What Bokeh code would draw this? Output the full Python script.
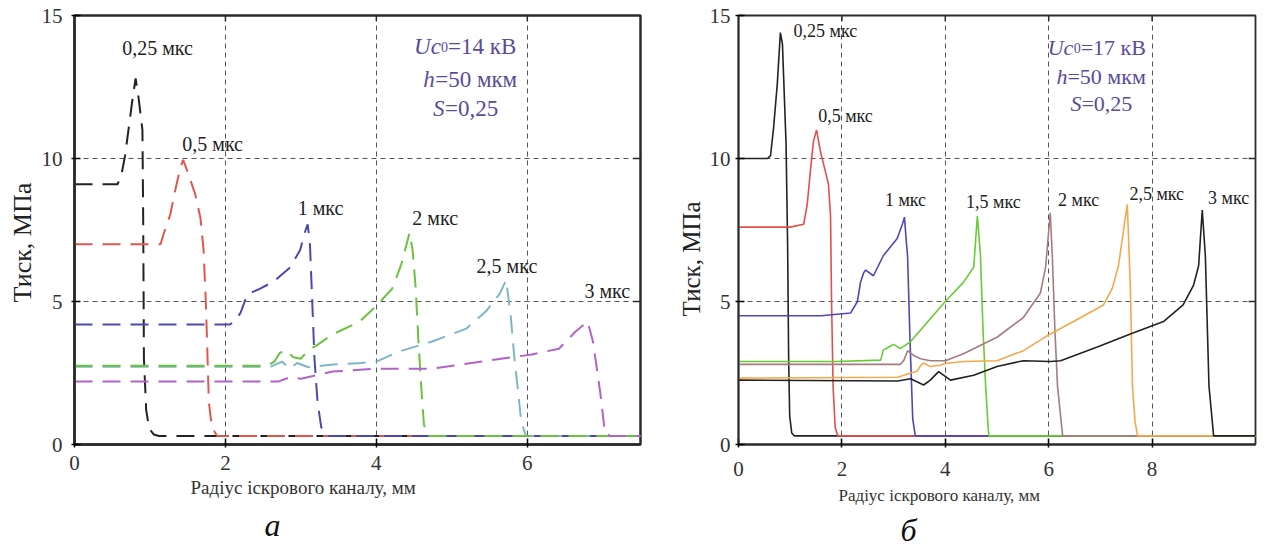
from bokeh.plotting import figure
from bokeh.models import Range1d, FixedTicker, Label, Title
from bokeh.layouts import row
from bokeh.embed import file_html
from bokeh.resources import INLINE

FONT = "'Liberation Serif', serif"

# ---------------- panel a (Uc0 = 14 kV), dashed curves ----------------
a_x_025 = [0, 0.57, 0.62, 0.67, 0.72, 0.77, 0.81, 0.85, 0.90, 0.91, 0.92, 0.95, 0.99, 1.05, 1.12, 7.5]
a_y_025 = [9.1, 9.1, 9.4, 10.1, 11.1, 12.1, 12.8, 12.1, 11.0, 8.0, 3.0, 1.2, 0.55, 0.35, 0.3, 0.3]
a_x_05 = [0, 1.14, 1.18, 1.27, 1.34, 1.40, 1.44, 1.51, 1.60, 1.67, 1.71, 1.74, 1.76, 1.78, 1.82, 1.89, 7.5]
a_y_05 = [7.0, 7.0, 7.35, 8.05, 8.95, 9.65, 9.95, 9.45, 8.75, 7.9, 6.8, 5.0, 3.3, 1.5, 0.6, 0.3, 0.3]
a_x_1 = [0, 2.06, 2.12, 2.20, 2.29, 2.46, 2.64, 2.86, 2.99, 3.05, 3.09, 3.12, 3.15, 3.18, 3.22, 3.27, 3.35, 7.5]
a_y_1 = [4.2, 4.2, 4.3, 4.6, 5.25, 5.45, 5.7, 6.2, 6.8, 7.4, 7.7, 7.0, 5.0, 3.0, 1.5, 0.6, 0.3, 0.3]
a_x_2 = [0, 2.55, 2.65, 2.72, 2.80, 2.90, 3.00, 3.10, 3.20, 3.42, 3.78, 4.00, 4.21, 4.33, 4.40, 4.44, 4.48, 4.52, 4.56, 4.60, 4.63, 4.68, 7.5]
a_y_2 = [2.75, 2.75, 2.9, 3.2, 3.3, 3.05, 3.0, 3.3, 3.45, 3.85, 4.3, 4.85, 5.45, 6.3, 7.0, 7.4, 6.8, 5.5, 3.5, 1.8, 0.7, 0.3, 0.3]
a_x_25 = [0, 2.6, 2.75, 2.85, 2.95, 3.1, 3.42, 3.8, 4.0, 4.3, 4.74, 5.19, 5.45, 5.63, 5.72, 5.78, 5.83, 5.88, 5.92, 5.98, 7.5]
a_y_25 = [2.72, 2.72, 2.9, 2.65, 2.85, 2.7, 2.8, 2.85, 2.9, 3.25, 3.6, 4.05, 4.65, 5.25, 5.75, 4.5, 3.0, 1.8, 0.8, 0.3, 0.3]
a_x_3 = [0, 2.7, 2.85, 3.0, 3.42, 4.0, 4.74, 5.4, 6.06, 6.42, 6.64, 6.80, 6.87, 6.93, 6.97, 7.03, 7.1, 7.5]
a_y_3 = [2.2, 2.2, 2.35, 2.3, 2.55, 2.65, 2.65, 2.9, 3.15, 3.35, 3.95, 4.3, 3.6, 2.5, 1.75, 0.4, 0.3, 0.3]

a_labels = ["0,25 мкс", "0,5 мкс", "1 мкс", "2 мкс", "2,5 мкс", "3 мкс"]
a_label_x = [1.10, 1.83, 3.26, 4.78, 5.73, 7.06]
a_label_y = [13.88, 10.52, 8.27, 7.92, 6.24, 5.36]

# ---------------- panel b (Uc0 = 17 kV), solid curves ----------------
b_x_025 = [0, 0.56, 0.62, 0.68, 0.75, 0.81, 0.85, 0.89, 0.92, 0.95, 0.97, 0.99, 1.03, 1.08, 10]
b_y_025 = [10.0, 10.0, 10.1, 11.1, 12.6, 14.4, 14.0, 12.0, 10.5, 7.0, 3.0, 1.0, 0.4, 0.3, 0.3]
b_x_05 = [0, 1.0, 1.26, 1.33, 1.39, 1.45, 1.51, 1.59, 1.68, 1.74, 1.78, 1.80, 1.83, 1.87, 1.92, 10]
b_y_05 = [7.6, 7.6, 7.7, 8.4, 9.55, 10.6, 11.0, 10.2, 9.55, 9.1, 8.0, 5.0, 2.0, 0.6, 0.3, 0.3]
b_x_1 = [0, 1.6, 2.17, 2.30, 2.36, 2.42, 2.46, 2.61, 2.80, 3.07, 3.17, 3.21, 3.25, 3.27, 3.32, 3.37, 3.42, 10]
b_y_1 = [4.5, 4.5, 4.6, 5.0, 5.67, 6.0, 6.1, 5.9, 6.6, 7.2, 7.7, 7.95, 7.0, 6.6, 3.5, 0.9, 0.3, 0.3]
b_x_15 = [0, 1.9, 2.75, 2.8, 2.9, 3.0, 3.13, 3.33, 3.71, 4.0, 4.35, 4.55, 4.62, 4.68, 4.73, 4.78, 4.84, 10]
b_y_15 = [2.9, 2.9, 2.95, 3.3, 3.4, 3.5, 3.35, 3.6, 4.4, 5.0, 5.67, 6.2, 8.0, 6.6, 4.0, 2.05, 0.3, 0.3]
b_x_2 = [0, 3.13, 3.2, 3.27, 3.4, 3.52, 3.71, 4.0, 4.35, 5.0, 5.51, 5.84, 5.94, 6.03, 6.07, 6.12, 6.17, 6.27, 10]
b_y_2 = [2.8, 2.8, 2.95, 3.28, 3.1, 3.0, 2.93, 2.93, 3.17, 3.75, 4.44, 5.3, 6.2, 8.1, 6.6, 4.0, 2.05, 0.3, 0.3]
b_x_25 = [0, 3.08, 3.33, 3.45, 3.52, 3.58, 3.7, 3.9, 4.0, 4.35, 5.0, 5.51, 5.97, 6.48, 7.06, 7.23, 7.35, 7.52, 7.58, 7.62, 7.67, 7.72, 10]
b_y_25 = [2.32, 2.35, 2.5, 2.55, 2.75, 2.85, 2.73, 2.77, 2.83, 2.9, 2.93, 3.28, 3.8, 4.3, 4.88, 5.46, 6.25, 8.4, 5.46, 2.05, 0.8, 0.3, 0.3]
b_x_3 = [0, 3.08, 3.33, 3.58, 3.71, 3.87, 4.1, 4.55, 5.0, 5.51, 6.03, 6.23, 6.94, 7.58, 8.22, 8.6, 8.8, 8.9, 8.97, 9.03, 9.1, 9.19, 10]
b_y_3 = [2.25, 2.22, 2.3, 2.08, 2.25, 2.55, 2.25, 2.42, 2.73, 2.93, 2.9, 2.93, 3.41, 3.86, 4.3, 4.88, 5.56, 6.25, 8.2, 6.6, 2.05, 0.3, 0.3]

b_labels = ["0,25 мкс", "0,5 мкс", "1 мкс", "1,5 мкс", "2 мкс", "2,5 мкс", "3 мкс"]
b_label_x = [1.68, 2.07, 3.23, 4.93, 6.58, 8.09, 9.48]
b_label_y = [14.45, 11.48, 8.54, 8.47, 8.54, 8.75, 8.61]

y_ticks = [0, 5, 10, 15]
a_x_ticks = [0, 2, 4, 6]
b_x_ticks = [0, 2, 4, 6, 8]
x_title = "Радіус іскрового каналу, мм"
y_title = "Тиск, МПа"
PARAM_COLOR = "#5a4b9b"
FRAME = "#2b2b2b"


def make_fig(width, xmax, xticks, mb_left, mb_top, mb_bottom, frame_w, tick_fs, x_std, y_std):
    p = figure(width=width, height=548, x_range=Range1d(0, xmax), y_range=Range1d(0, 15),
               output_backend="svg", toolbar_location=None,
               min_border_left=mb_left, min_border_right=10,
               min_border_top=mb_top, min_border_bottom=mb_bottom)
    p.background_fill_color = "white"
    p.border_fill_color = "white"
    p.outline_line_color = FRAME
    p.outline_line_width = frame_w
    for ax, tk in ((p.xaxis[0], xticks), (p.yaxis[0], y_ticks)):
        ax.ticker = FixedTicker(ticks=tk)
        ax.minor_tick_line_color = None
        ax.major_tick_in = 6
        ax.major_tick_out = 3
        ax.major_tick_line_width = 1.5
        ax.axis_line_width = frame_w
        ax.axis_line_color = FRAME
        ax.major_label_text_font = FONT
        ax.major_label_text_font_size = tick_fs
        ax.major_label_text_color = "#333333"
    p.xaxis[0].major_label_standoff = x_std
    p.yaxis[0].major_label_standoff = y_std
    p.xgrid.ticker = FixedTicker(ticks=[t for t in xticks if t > 0])
    p.ygrid.ticker = FixedTicker(ticks=[5, 10])
    for g in (p.xgrid[0], p.ygrid[0]):
        g.grid_line_color = "#555555"
        g.grid_line_dash = "5 4"
        g.grid_line_width = 1
    # inward tick marks on the top and right frame edges
    inner_x = [t for t in xticks if t > 0]
    p.segment(x0=inner_x, y0=[15] * len(inner_x), x1=inner_x, y1=[14.8] * len(inner_x),
              line_color=FRAME, line_width=1.5)
    inner_y = [5, 10]
    p.segment(x0=[xmax] * 2, y0=inner_y, x1=[xmax - 0.1 * xmax / 7.5] * 2, y1=inner_y,
              line_color=FRAME, line_width=1.5)
    return p


def add_params(p, lines, color):
    for xl, yl, pieces in lines:
        for txt, style, size, off in pieces:
            p.add_layout(Label(x=xl, y=yl, x_offset=off, text=txt, text_font=FONT,
                               text_font_style=style, text_font_size=size,
                               text_color=color, text_align="left", text_baseline="middle"))


def add_titles(p, xt_size, xt_off, xt_stand, xt_base, yt_size, yt_off,
               tag, tag_size, tag_off, tag_stand, tag_base):
    p.add_layout(Title(text=x_title, text_font=FONT, text_font_size=xt_size,
                       text_font_style="normal", text_color="#333333", vertical_align="bottom",
                       text_baseline=xt_base,
                       align="left", offset=xt_off, standoff=xt_stand), "below")
    p.add_layout(Title(text=tag, text_font=FONT, text_font_size=tag_size,
                       text_font_style="italic", text_color="#111111", vertical_align="bottom",
                       text_baseline=tag_base,
                       align="left", offset=tag_off, standoff=tag_stand), "below")
    p.add_layout(Title(text=y_title, text_font=FONT, text_font_size=yt_size,
                       text_font_style="normal", text_color="#222222",
                       align="left", offset=yt_off, standoff=4), "left")


# ---------------- figure a ----------------
pa = make_fig(650, 7.5, a_x_ticks, 74, 15, 104, 2.5, "21px", 8, 9)
a_curves = [(a_x_025, a_y_025, "#222222"), (a_x_05, a_y_05, "#e0574f"),
            (a_x_1, a_y_1, "#4c48b0"), (a_x_25, a_y_25, "#7fb6c6"),
            (a_x_2, a_y_2, "#6cc23e"), (a_x_3, a_y_3, "#b063c8")]
for xs, ys, c in a_curves:
    pa.line(xs, ys, line_color=c, line_width=2, line_dash="18 10")
for t, x, y in zip(a_labels, a_label_x, a_label_y):
    pa.add_layout(Label(x=x, y=y, text=t, text_font=FONT, text_font_size="20px",
                        text_color="#222222", text_align="center", text_baseline="middle"))
add_params(pa, [
    (4.50, 13.90, [("Uc", "italic", "23px", 0), ("0", "normal", "14px", 27), ("=14 кВ", "normal", "23px", 34)]),
    (4.62, 12.76, [("h", "italic", "23px", 0), ("=50 мкм", "normal", "23px", 12)]),
    (4.75, 11.74, [("S", "italic", "23px", 0), ("=0,25", "normal", "23px", 12)]),
], PARAM_COLOR)
add_titles(pa, "19px", 116, 5, "bottom", "26px", 142, "а", "32px", 190, 9, "alphabetic")

# ---------------- figure b ----------------
pb = make_fig(615, 10, b_x_ticks, 88, 14, 95, 1.8, "21px", 14, 5)
b_curves = [(b_x_025, b_y_025, "#222222"), (b_x_05, b_y_05, "#e0504a"),
            (b_x_1, b_y_1, "#5046b4"), (b_x_15, b_y_15, "#66cc33"),
            (b_x_2, b_y_2, "#a47c80"), (b_x_25, b_y_25, "#f5a84a"),
            (b_x_3, b_y_3, "#222222")]
for xs, ys, c in b_curves:
    pb.line(xs, ys, line_color=c, line_width=1.6)
for t, x, y in zip(b_labels, b_label_x, b_label_y):
    pb.add_layout(Label(x=x, y=y, text=t, text_font=FONT, text_font_size="18px",
                        text_color="#222222", text_align="center", text_baseline="middle"))
add_params(pb, [
    (5.98, 13.87, [("Uc", "italic", "22px", 0), ("0", "normal", "14px", 26), ("=17 кВ", "normal", "22px", 33)]),
    (6.15, 12.88, [("h", "italic", "22px", 0), ("=50 мкм", "normal", "22px", 11)]),
    (6.42, 11.92, [("S", "italic", "22px", 0), ("=0,25", "normal", "22px", 11)]),
], PARAM_COLOR)
add_titles(pb, "17px", 100, 10, "alphabetic", "25px", 128, "б", "32px", 162, 0, "bottom")

layout = row(pa, pb)
open("out.html", "w").write(file_html(layout, INLINE))
